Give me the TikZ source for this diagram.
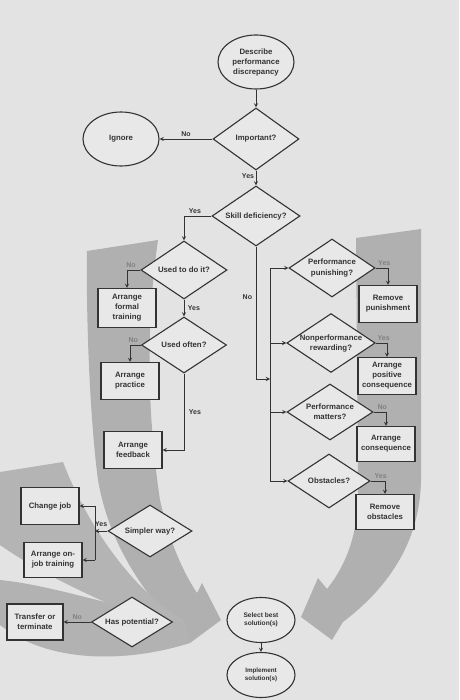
\documentclass[tikz,border=0pt]{standalone}
\usepackage{fontspec}
\setmainfont{Liberation Sans}
\usepackage{tikz}
\usetikzlibrary{shapes.geometric, arrows}
\usetikzlibrary{positioning}
\definecolor{paper}{gray}{0.89}
\definecolor{card}{gray}{0.91}
\definecolor{ribbon}{gray}{0.69}
\definecolor{ink}{gray}{0.2}
\definecolor{paleink}{gray}{0.5}
\tikzstyle{arrow} = [->,>=stealth, draw=ink, line width=0.9pt]
\tikzstyle{link} = [draw=ink, line width=0.9pt]
\tikzstyle{terminal} = [ellipse, minimum width=76pt, minimum height=54pt, inner sep=1pt, align=center, draw=ink, line width=1.1pt, fill=card, text=ink, font=\fontsize{7.8}{10}\selectfont\bfseries]
\tikzstyle{decision} = [diamond, aspect=1.5, minimum width=86pt, minimum height=58pt, inner sep=0pt, align=center, draw=ink, line width=1.1pt, fill=card, text=ink, font=\fontsize{7.8}{10}\selectfont\bfseries]
\tikzstyle{action} = [rectangle, minimum width=58pt, minimum height=37pt, inner sep=2pt, align=center, draw=ink, line width=1.1pt, fill=card, text=ink, font=\fontsize{7.8}{10}\selectfont\bfseries]
\tikzstyle{answer} = [inner sep=1.5pt, text=ink, font=\fontsize{7}{8}\selectfont\bfseries]
\tikzstyle{answerpale} = [answer, text=paleink]

\begin{document}
\begin{tikzpicture}[x=1pt, y=1pt, node distance=75pt]
                \useasboundingbox (0,0) rectangle (459,-700);
                \fill [paper] (0,0) rectangle (459,-700);
                % grey ribbons behind the chart
                \fill [ribbon] (87,-251) -- (158,-240) .. controls (145,-330) and (148,-420) .. (160,-500) .. controls (170,-545) and (185,-575) .. (197,-593) -- (202,-583) -- (221,-620) -- (190,-643) -- (183,-634) .. controls (150,-600) and (110,-550) .. (98,-480) .. controls (90,-420) and (86,-320) .. (87,-251) -- cycle;
                \fill [ribbon!95!white] (0,-472) -- (63,-462) .. controls (85,-520) and (130,-590) .. (186,-622) -- (183,-634) .. controls (120,-610) and (50,-580) .. (0,-545) -- cycle;
                \fill [ribbon!97!white] (0,-580) .. controls (50,-585) and (110,-605) .. (186,-622) -- (190,-643) .. controls (130,-662) and (50,-665) .. (0,-625) -- cycle;
                \fill [ribbon] (356,-238) -- (421,-229) -- (421,-480) .. controls (420,-545) and (385,-590) .. (343,-622) -- (332,-640) -- (301,-617) -- (318,-578) -- (327,-589) .. controls (350,-560) and (360,-525) .. (358,-480) -- cycle;

                \node (describe) [terminal] at (256,-62) {Describe\\performance\\discrepancy};
                \node (important) [decision, below of=describe, yshift=-2pt, minimum height=62pt] {Important?};
                \node (ignore) [terminal, left of=important, xshift=-60pt] {Ignore};
                \node (skill) [decision, below of=important, yshift=-2pt, minimum width=88pt, minimum height=60pt] {Skill deficiency?};
                \node (usedto) [decision, below of=skill, xshift=-72pt, yshift=21pt] {Used to do it?};
                \node (formal) [action, below of=usedto, xshift=-57pt, yshift=37pt, minimum height=39pt] {Arrange\\formal\\training};
                \node (usedoften) [decision, below of=usedto, minimum width=85pt, minimum height=56pt] {Used often?};
                \node (practice) [action, below of=usedoften, xshift=-54pt, yshift=39pt] {Arrange\\practice};
                \node (feedback) [action, below of=practice, xshift=3pt, yshift=6pt] {Arrange\\feedback};
                \node (punishing) [decision, right of=usedto, xshift=73pt, yshift=2pt] {Performance\\punishing?};
                \node (rempunish) [action, below of=punishing, xshift=56pt, yshift=39pt] {Remove\\punishment};
                \node (rewarding) [decision, below of=punishing, xshift=-1pt] {Nonperformance\\rewarding?};
                \node (positive) [action, below of=rempunish, xshift=-1pt, yshift=3pt] {Arrange\\positive\\consequence};
                \node (matters) [decision, below of=rewarding, xshift=-1pt, yshift=6pt, minimum height=56pt] {Performance\\matters?};
                \node (conseq) [action, below of=positive, xshift=-1pt, yshift=7pt, minimum height=35pt] {Arrange\\consequence};
                \node (obstacles) [decision, below of=matters, xshift=-1pt, yshift=6pt, minimum width=82pt, minimum height=54pt] {Obstacles?};
                \node (remobst) [action, below of=conseq, xshift=-1pt, yshift=7pt, minimum height=35pt] {Remove\\obstacles};
                \node (simpler) [decision, below of=feedback, xshift=17pt, yshift=-6pt, minimum width=84pt, minimum height=52pt] {Simpler way?};
                \node (changejob) [action, left of=simpler, xshift=-25pt, yshift=25pt] {Change job};
                \node (onjob) [action, left of=simpler, xshift=-22pt, yshift=-29pt, minimum height=35pt] {Arrange on-\\job training};
                \node (potential) [decision, below of=simpler, xshift=-18pt, yshift=-16pt, minimum width=81pt, minimum height=50pt] {Has potential?};
                \node (transfer) [action, left of=potential, xshift=-22pt, minimum width=56pt, minimum height=36pt] {Transfer or\\terminate};
                \node (select) [terminal, right of=potential, xshift=54pt, yshift=2pt, minimum width=68pt, minimum height=45pt, font=\fontsize{6.6}{8.5}\selectfont\bfseries] {Select best\\solution(s)};
                \node (implement) [terminal, below of=select, yshift=20pt, minimum width=68pt, minimum height=45pt, font=\fontsize{6.3}{8.5}\selectfont\bfseries] {Implement\\solution(s)};
                \node (trunk) [coordinate, below of=skill, xshift=14pt, yshift=-88pt] {};
                \node (split) [coordinate, left of=simpler, xshift=20pt] {};

                \draw [arrow] (describe) -- (important);
                \draw [arrow] (important) -- node[answer, anchor=south]{No} (ignore);
                \draw [arrow] (important) -- node[answer, anchor=east, pos=0.4]{Yes} (skill);
                \draw [arrow] (skill.west) -| node[answer, anchor=south, pos=0.3]{Yes} (usedto.north);
                \draw [arrow] (usedto.west) -| node[answerpale, anchor=south, pos=0.35]{No} (formal.north);
                \draw [arrow] (usedto) -- node[answer, anchor=west, xshift=2pt]{Yes} (usedoften);
                \draw [arrow] (usedoften.west) -| node[answerpale, anchor=south, pos=0.35]{No} (practice.north);
                \draw [arrow] (usedoften.south) |- node[answer, anchor=west, pos=0.25, xshift=3pt]{Yes} (feedback.east);
                \draw [arrow] (skill.south) |- node[answer, anchor=east, pos=0.19, xshift=-2pt]{No} (trunk);
                \draw [link] (punishing.west -| trunk) -- (obstacles.west -| trunk);
                \draw [arrow] (punishing.west -| trunk) -- (punishing.west);
                \draw [arrow] (rewarding.west -| trunk) -- (rewarding.west);
                \draw [arrow] (matters.west -| trunk) -- (matters.west);
                \draw [arrow] (obstacles.west -| trunk) -- (obstacles.west);
                \draw [arrow] (punishing.east) -| node[answerpale, anchor=south, pos=0.35]{Yes} (rempunish.north);
                \draw [arrow] (rewarding.east) -| node[answerpale, anchor=south, pos=0.35]{Yes} (positive.north);
                \draw [arrow] (matters.east) -| node[answerpale, anchor=south, pos=0.35]{No} (conseq.north);
                \draw [arrow] (obstacles.east) -| node[answerpale, anchor=south, pos=0.35]{Yes} (remobst.north);
                \draw [arrow] (simpler.west) -- node[answer, anchor=south, yshift=2pt]{Yes} (split);
                \draw [link] (split |- changejob.east) -- (split |- onjob.east);
                \draw [arrow] (split |- changejob.east) -- (changejob.east);
                \draw [arrow] (split |- onjob.east) -- (onjob.east);
                \draw [arrow] (potential) -- node[answerpale, anchor=south]{No} (transfer);
                \draw [arrow] (select) -- (implement);
                \end{tikzpicture}
\end{document}
